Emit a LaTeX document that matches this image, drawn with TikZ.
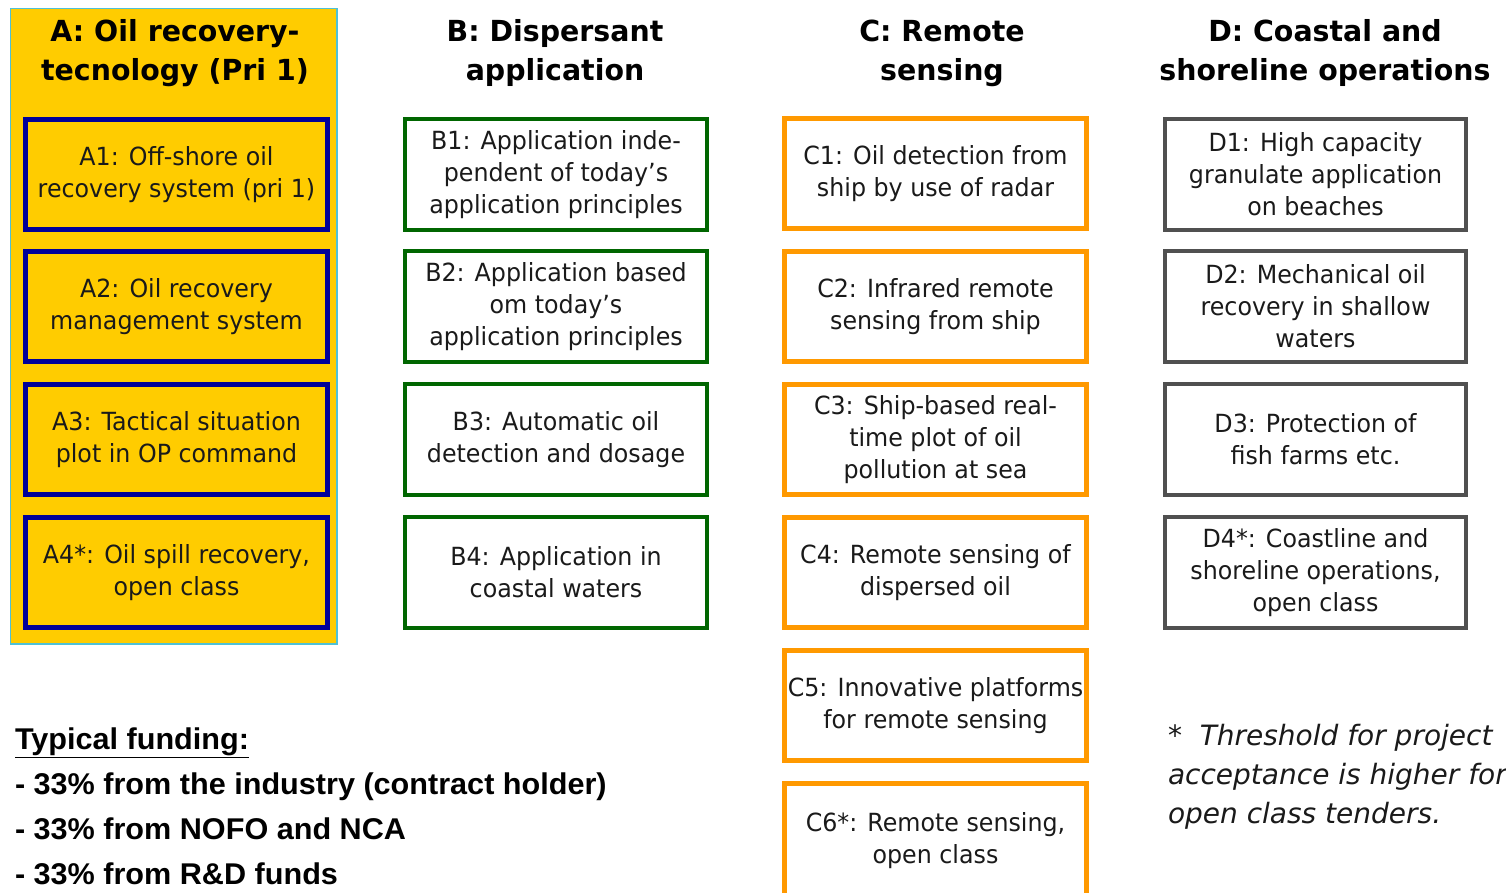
\documentclass[tikz,border=0pt]{standalone}
\usepackage{fontspec}
\setmainfont{DejaVu Sans}
\newfontfamily\bodyfont[FakeStretch=0.95]{DejaVu Sans}
\newfontfamily\headfont[FakeStretch=0.98]{DejaVu Sans}
\newfontfamily\notefont[FakeStretch=1.0]{DejaVu Sans}
\newfontfamily\narrowfont[FakeStretch=1.02]{Liberation Sans}
\definecolor{gold}{HTML}{FFCC00}
\definecolor{panelline}{HTML}{4FC1D6}
\definecolor{navy}{HTML}{000099}
\definecolor{dgreen}{HTML}{006600}
\definecolor{orng}{HTML}{FF9900}
\definecolor{dgray}{HTML}{505050}
\definecolor{txt}{HTML}{1A1A1A}
\tikzset{
  every node/.style={inner sep=0pt, outer sep=0pt},
  itembox/.style={draw, rectangle, align=center, text=txt,
    font=\bodyfont\fontsize{25}{32}\selectfont},
  abox/.style={itembox, line width=5pt, draw=navy, fill=gold, minimum width=302pt, minimum height=110pt},
  bbox/.style={itembox, line width=4pt, draw=dgreen, fill=white, minimum width=302pt, minimum height=111pt},
  cbox/.style={itembox, line width=5pt, draw=orng, fill=white, minimum width=302pt, minimum height=110pt},
  dbox/.style={itembox, line width=4pt, draw=dgray, fill=white, minimum width=301pt, minimum height=111pt},
  header/.style={align=center, font=\headfont\bfseries\fontsize{29}{39}\selectfont, text=black},
}
\begin{document}
\begin{tikzpicture}[x=1pt,y=-1pt]
\useasboundingbox (0,0) rectangle (1506,893);
\fill[white] (0,0) rectangle (1506,893);
% panel A
\draw[panelline, line width=1.5pt, fill=gold] (10.5,8.5) rectangle (337,644);
\node[header] (ha) at (175,53) {A: Oil recovery-\\tecnology (Pri 1)};
\node[header] (hb) at (555,53) {B: Dispersant\\application};
\node[header] (hc) at (942,53) {C: Remote\\sensing};
\node[header] (hd) at (1325,53) {D: Coastal and\\shoreline operations};
% A
\node[abox] (a1) at (176.5,174.5) {A1: Off-shore oil\\recovery system (pri 1)};
\node[abox] (a2) at (176.5,306.5) {A2: Oil recovery\\management system};
\node[abox] (a3) at (176.5,439.5) {A3: Tactical situation\\plot in OP command};
\node[abox] (a4) at (176.5,572.5) {A4*: Oil spill recovery,\\open class};
% B
\node[bbox] (b1) at (556,174.5) {B1: Application inde-\\pendent of today’s\\application principles};
\node[bbox] (b2) at (556,306.5) {B2: Application based\\om today’s\\application principles};
\node[bbox] (b3) at (556,439.5) {B3: Automatic oil\\detection and dosage};
\node[bbox] (b4) at (556,572.5) {B4: Application in\\coastal waters};
% C
\node[cbox] (c1) at (935.5,174) {C1: Oil detection from\\ship by use of radar};
\node[cbox] (c2) at (935.5,306.5) {C2: Infrared remote\\sensing from ship};
\node[cbox] (c3) at (935.5,439.5) {C3: Ship-based real-\\time plot of oil\\pollution at sea};
\node[cbox] (c4) at (935.5,572.5) {C4: Remote sensing of\\dispersed oil};
\node[cbox] (c5) at (935.5,705.5) {C5: Innovative platforms\\for remote sensing};
\node[cbox, minimum height=115pt] (c6) at (935.5,841) {C6*: Remote sensing,\\open class};
% D
\node[dbox] (d1) at (1315.5,174.5) {D1: High capacity\\granulate application\\on beaches};
\node[dbox] (d2) at (1315.5,306.5) {D2: Mechanical oil\\recovery in shallow\\waters};
\node[dbox] (d3) at (1315.5,439.5) {D3: Protection of\\fish farms etc.};
\node[dbox] (d4) at (1315.5,572.5) {D4*: Coastline and\\shoreline operations,\\open class};
% funding
\node[anchor=north west, align=left, font=\narrowfont\bfseries\fontsize{30}{45}\selectfont] (fund) at (15,728)
  {\underline{Typical funding:}\\- 33\% from the industry (contract holder)\\- 33\% from NOFO and NCA\\- 33\% from R\&D funds};
% footnote
\node[anchor=north west, align=left, font=\notefont\itshape\fontsize{28}{39}\selectfont, text=txt] (note) at (1168,724)
  {*\ \ Threshold for project\\acceptance is higher for\\open class tenders.};
\end{tikzpicture}
\end{document}
